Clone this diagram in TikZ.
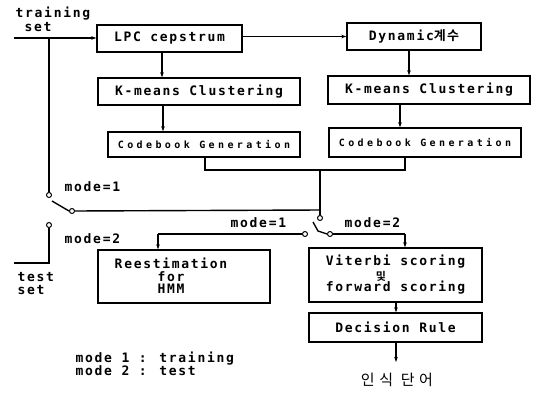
\documentclass[tikz,border=0pt]{standalone}
\usepackage{fontspec}
\usetikzlibrary{arrows.meta}
\newfontfamily\mono{DejaVu Sans Mono Bold}[LetterSpace=13]
\newfontfamily\monowide{DejaVu Sans Mono Bold}[LetterSpace=34]
\newfontfamily\kr{Noto Sans CJK KR Bold}[LetterSpace=10]
\newfontfamily\krout{Noto Sans CJK KR}[LetterSpace=30]
\begin{document}
\begin{tikzpicture}[x=1pt,y=-1pt,
  line width=1.4pt,
  box/.style={draw,rectangle,inner sep=0pt,font=\mono\fontsize{13}{13}\selectfont},
  lbl/.style={inner sep=0pt,anchor=west,font=\mono\fontsize{13}{13}\selectfont},
  arr/.style={-{Stealth[length=5pt,width=3.5pt]}},
  contact/.style={draw,circle,inner sep=0pt,minimum size=5pt,line width=1pt,fill=white}]
\useasboundingbox (0,0) rectangle (537,392);
% boxes
\node[box,minimum width=145pt,minimum height=27pt] (lpc) at (169.5,38.5) {LPC cepstrum};
\node[box,minimum width=134pt,minimum height=27pt] (dyn) at (414,36.5) {Dynamic{\kr 계수}};
\node[box,minimum width=202pt,minimum height=27pt] (km1) at (199,91.5) {K-means Clustering};
\node[box,minimum width=202pt,minimum height=28pt] (km2) at (429,90) {K-means Clustering};
\node[box,minimum width=192pt,minimum height=25pt,font=\monowide\fontsize{10}{10}\selectfont] (cb1) at (204,144.5) {Codebook Generation};
\node[box,minimum width=192pt,minimum height=29pt,font=\monowide\fontsize{10}{10}\selectfont] (cb2) at (425,142.5) {Codebook Generation};
\node[box,minimum width=172pt,minimum height=53pt] (rest) at (184,276.5) {};
\node[lbl,anchor=center,align=center,font=\mono\fontsize{13}{12.5}\selectfont] (restt) at (171,276) {Reestimation\\for\\HMM};
\node[box,minimum width=173pt,minimum height=54pt,align=center,font=\mono\fontsize{13}{26}\selectfont] (vit) at (395.5,275) {Viterbi scoring\\forward scoring};
\node[inner sep=0pt,font=\kr\fontsize{11}{11}\selectfont] (mit) at (381,276) {및};
\node[box,minimum width=173pt,minimum height=29pt] (dec) at (395.5,327.5) {Decision Rule};
\node[inner sep=0pt,font=\krout\fontsize{15}{15}\selectfont] (out) at (397,380) {인식 단어};
% labels
\node[lbl] (tr1) at (15,14) {training};
\node[lbl] (tr2) at (24,27) {set};
\node[lbl] (ts1) at (17,277) {test};
\node[lbl] (ts2) at (17,290) {set};
\node[lbl] (m1a) at (64,187) {mode=1};
\node[lbl] (m2a) at (64,239) {mode=2};
\node[lbl] (m1b) at (230,223) {mode=1};
\node[lbl] (m2b) at (344,223) {mode=2};
\node[lbl,align=left,font=\mono\fontsize{13}{13}\selectfont] (leg) at (75,363.5) {mode 1 : training\\mode 2 : test};
% coordinates
\coordinate (inL) at (14,38);
\coordinate (tapT) at (49,38);
\coordinate (tsE) at (14,263);
\coordinate (tsC) at (49,263);
\coordinate (mL) at (205,170);
\coordinate (mR) at (405,170);
\coordinate (mV) at (320,170);
\coordinate (jn) at (320,210);
\coordinate (lev1) at (52,201);
\coordinate (lev2) at (313,222);
\coordinate (lev3) at (318,231);
\coordinate (c1) at (158,234);
\coordinate (c2) at (405,234);
% switch contacts
\node[contact] (sL1) at (49,195) {};
\node[contact] (sL2) at (49,225) {};
\node[contact] (sLp) at (72,211) {};
\node[contact] (sR0) at (320,218) {};
\node[contact] (sRa) at (305,234) {};
\node[contact] (sRb) at (330,234) {};
% connectors
\draw[arr] (inL) -- (lpc.west |- inL);
\draw (tapT) -- (sL1);
\draw (sL2) -- (tsC) -- (tsE);
\draw (sLp.west) -- (lev1);
\draw (sLp) -- (jn);
\draw[arr] (lpc.east |- dyn) -- (dyn.west);
\draw[arr] (lpc.south -| 162,0) -- (km1.north -| 162,0);
\draw[arr] (dyn.south -| 409,0) -- (km2.north -| 409,0);
\draw[arr] (km1.south -| 163,0) -- (cb1.north -| 163,0);
\draw[arr] (km2.south -| 400,0) -- (cb2.north -| 400,0);
\draw (cb1.south -| mL) -- (mL) -- (mR) -- (cb2.south -| mR);
\draw (mV) -- (sR0);
\draw (lev2) -- (lev3) -- (sRb.west);
\draw (sRa) -- (c1);
\draw[arr] (c1) -- (rest.north -| c1);
\draw (sRb) -- (c2);
\draw[arr] (c2) -- (vit.north -| c2);
\draw[arr] (vit.south -| 396,0) -- (dec.north -| 396,0);
\draw[arr] (dec.south -| 396,0) -- (396,362);
\end{tikzpicture}
\end{document}
